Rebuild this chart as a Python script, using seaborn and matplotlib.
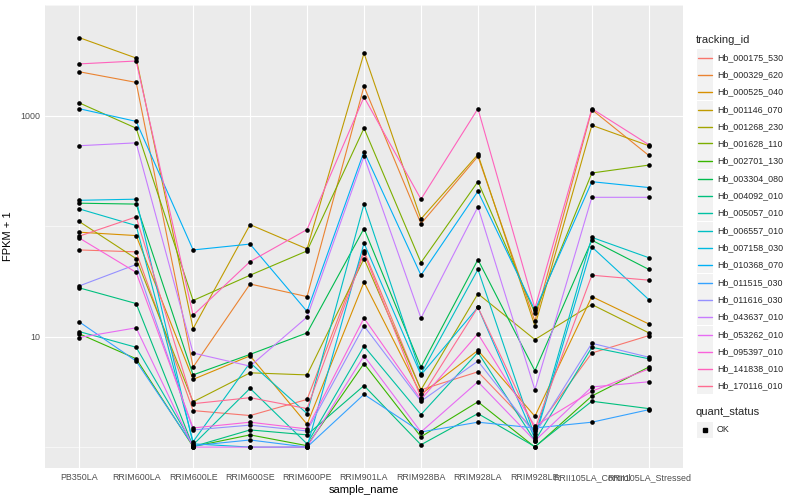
import matplotlib

matplotlib.use("Agg")
import matplotlib.pyplot as plt
import pandas as pd
import seaborn as sns
from matplotlib.lines import Line2D
from matplotlib.patches import Rectangle

samples = [
    "PB350LA", "RRIM600LA", "RRIM600LE", "RRIM600SE", "RRIM600PE", "RRIM901LA",
    "RRIM928BA", "RRIM928LA", "RRIM928LE", "RRII105LA_Control", "RRII105LA_Stressed",
]

tracking_ids = [
    "Hb_000175_530", "Hb_000329_620", "Hb_000525_040", "Hb_001146_070", "Hb_001268_230",
    "Hb_001628_110", "Hb_002701_130", "Hb_003304_080", "Hb_004092_010", "Hb_005057_010",
    "Hb_006557_010", "Hb_007158_030", "Hb_010368_070", "Hb_011515_030", "Hb_011616_030",
    "Hb_043637_010", "Hb_053262_010", "Hb_095397_010", "Hb_141838_010", "Hb_170116_010",
]

# FPKM per sample (plotted as FPKM + 1)
fpkm_000175_530 = [59.8, 57.4, 1.14, 0.93, 1.7, 58.6, 2.3, 3.8, 0.40, 6.1, 9.2]
fpkm_000329_620 = [2488, 1994, 4.3, 28.9, 22.0, 1836, 104, 426, 12.8, 1129, 434]
fpkm_000525_040 = [87, 81, 3.1, 5.7, 0.61, 30.1, 2.0, 6.5, 0.90, 22.0, 12.0]
fpkm_001146_070 = [5069, 3310, 10.8, 102, 61.1, 3663, 115, 443, 11.5, 815, 532]
fpkm_001268_230 = [109, 49.7, 1.57, 3.7, 3.5, 49.7, 2.3, 23.4, 8.4, 18.5, 9.8]
fpkm_001628_110 = [1301, 767, 20.2, 34.9, 58.6, 767, 45.7, 251, 15.3, 301, 355]
fpkm_002701_130 = [9.6, 5.3, 0.01, 0.29, 0.03, 4.7, 0.24, 1.57, 0.0, 1.9, 4.3]
fpkm_003304_080 = [160, 157, 3.5, 5.9, 9.8, 94, 4.3, 48.7, 3.9, 73.5, 39.5]
fpkm_004092_010 = [26.6, 18.9, 0.01, 0.43, 0.29, 2.6, 0.05, 1.01, 0.01, 1.6, 1.23]
fpkm_005057_010 = [10.1, 7.0, 0.05, 2.4, 0.07, 7.2, 0.97, 6.2, 0.14, 7.0, 5.3]
fpkm_006557_010 = [142, 100, 0.12, 4.8, 1.01, 157, 3.6, 39.5, 0.24, 78, 50.7]
fpkm_007158_030 = [170, 174, 0.07, 0.0, 0.0, 69, 3.5, 17.4, 0.19, 63.7, 20.6]
fpkm_010368_070 = [1152, 884, 59.8, 67.7, 15.9, 471, 34.9, 205, 16.3, 251, 222]
fpkm_011515_030 = [12.6, 5.0, 0.03, 0.16, 0.0, 2.0, 0.37, 0.68, 0.49, 0.68, 1.18]
fpkm_011616_030 = [27.7, 43.9, 0.43, 0.58, 0.40, 11.5, 1.6, 5.0, 0.32, 7.7, 5.5]
fpkm_043637_010 = [532, 565, 6.1, 4.4, 14.0, 426, 13.7, 148, 2.3, 181, 181]
fpkm_053262_010 = [8.8, 11.0, 0.0, 0.0, 0.0, 5.7, 0.37, 2.9, 0.14, 2.5, 2.9]
fpkm_095397_010 = [77, 37.1, 0.49, 0.68, 0.46, 13.7, 1.7, 9.6, 0.55, 2.2, 4.1]
fpkm_141838_010 = [2930, 3113, 14.6, 46.7, 92, 1468, 174, 1152, 17.0, 1152, 543]
fpkm_170116_010 = [80, 120, 1.47, 1.8, 1.23, 56.3, 1.8, 17.4, 0.46, 34.9, 31.4]

series = [
    fpkm_000175_530, fpkm_000329_620, fpkm_000525_040, fpkm_001146_070, fpkm_001268_230,
    fpkm_001628_110, fpkm_002701_130, fpkm_003304_080, fpkm_004092_010, fpkm_005057_010,
    fpkm_006557_010, fpkm_007158_030, fpkm_010368_070, fpkm_011515_030, fpkm_011616_030,
    fpkm_043637_010, fpkm_053262_010, fpkm_095397_010, fpkm_141838_010, fpkm_170116_010,
]

# ggplot2 default hue palette for 20 levels
hue_colors = [
    "#F8766D", "#EA8331", "#D89000", "#C09B00", "#A3A500", "#7CAE00", "#39B600",
    "#00BB4E", "#00BF7D", "#00C1A3", "#00BFC4", "#00BAE0", "#00B0F6", "#35A2FF",
    "#9590FF", "#C77CFF", "#E76BF3", "#FA62DB", "#FF62BC", "#FF6C91",
]

rows = []
for tid, vals in zip(tracking_ids, series):
    for s, v in zip(samples, vals):
        rows.append({"tracking_id": tid, "sample_name": s, "fpkm": v, "quant_status": "OK"})
df = pd.DataFrame(rows)
df["fpkm1"] = df["fpkm"] + 1

sns.set_theme(style="darkgrid")
plt.rcParams["font.family"] = ["Liberation Sans", "DejaVu Sans"]

W, H = 800, 500
fig = plt.figure(figsize=(8, 5), dpi=100)
fig.patch.set_facecolor("white")
ax = fig.add_axes([45 / W, 1 - 468 / H, (683 - 45) / W, (468 - 5) / H])
ax.set_facecolor("#EBEBEB")

sns.lineplot(
    data=df, x="sample_name", y="fpkm1", hue="tracking_id", hue_order=tracking_ids,
    palette=hue_colors, estimator=None, errorbar=None, linewidth=0.8, legend=False,
    ax=ax, zorder=3,
)
sns.scatterplot(
    data=df, x="sample_name", y="fpkm1", color="black", s=11, linewidth=0,
    legend=False, ax=ax, zorder=4,
)

ax.set_yscale("log")
ax.set_ylim(0.647, 7762)
ax.set_xlim(-0.6, len(samples) - 0.4)
ax.set_yticks([10, 1000])
ax.set_yticklabels(["10", "1000"])
ax.set_yticks([1, 100, 10000], minor=True)
ax.yaxis.set_minor_formatter(matplotlib.ticker.NullFormatter())
ax.set_xticks(range(len(samples)))
ax.set_xticklabels(samples)

ax.grid(which="major", color="white", linewidth=0.8)
ax.grid(which="minor", axis="y", color="white", linewidth=0.4)
ax.set_axisbelow(True)
for sp in ax.spines.values():
    sp.set_visible(False)
ax.tick_params(axis="both", which="major", length=2, width=0.7, color="#333333",
               labelsize=6.4, labelcolor="#4D4D4D", pad=1.6)
ax.tick_params(axis="y", which="minor", length=0)
ax.set_xlabel("sample_name", fontsize=8, color="black", labelpad=2)
ax.set_ylabel("FPKM + 1", fontsize=8, color="black", labelpad=5)


def fx(x):
    return x / W


def fy(y):
    return 1 - y / H


# legend: tracking_id
fig.text(fx(696), fy(40), "tracking_id", fontsize=8, va="center", ha="left")
for i, (tid, col) in enumerate(zip(tracking_ids, hue_colors)):
    yc = round(56.7 + i * 17.3) + 0.5
    fig.patches.append(Rectangle((fx(697), fy(yc + 8.3)), 16 / W, 16.6 / H,
                                 transform=fig.transFigure, facecolor="#F2F2F2",
                                 edgecolor="none", zorder=1))
    fig.lines.append(Line2D([fx(698), fx(712)], [fy(yc), fy(yc)], transform=fig.transFigure,
                            color=col, linewidth=1.0, zorder=2))
    fig.text(fx(717), fy(yc), tid, fontsize=6.4, va="center", ha="left")

# legend: quant_status
fig.text(fx(696), fy(412), "quant_status", fontsize=8, va="center", ha="left")
fig.patches.append(Rectangle((fx(697), fy(438.3)), 16 / W, 16.6 / H,
                             transform=fig.transFigure, facecolor="#F2F2F2", edgecolor="none"))
fig.lines.append(Line2D([fx(705)], [fy(430)], transform=fig.transFigure, color="black",
                        marker="s", markersize=2.6, linewidth=0))
fig.text(fx(717), fy(430), "OK", fontsize=6.4, va="center", ha="left")

fig.savefig("out.png", dpi=100)
plt.close(fig)
